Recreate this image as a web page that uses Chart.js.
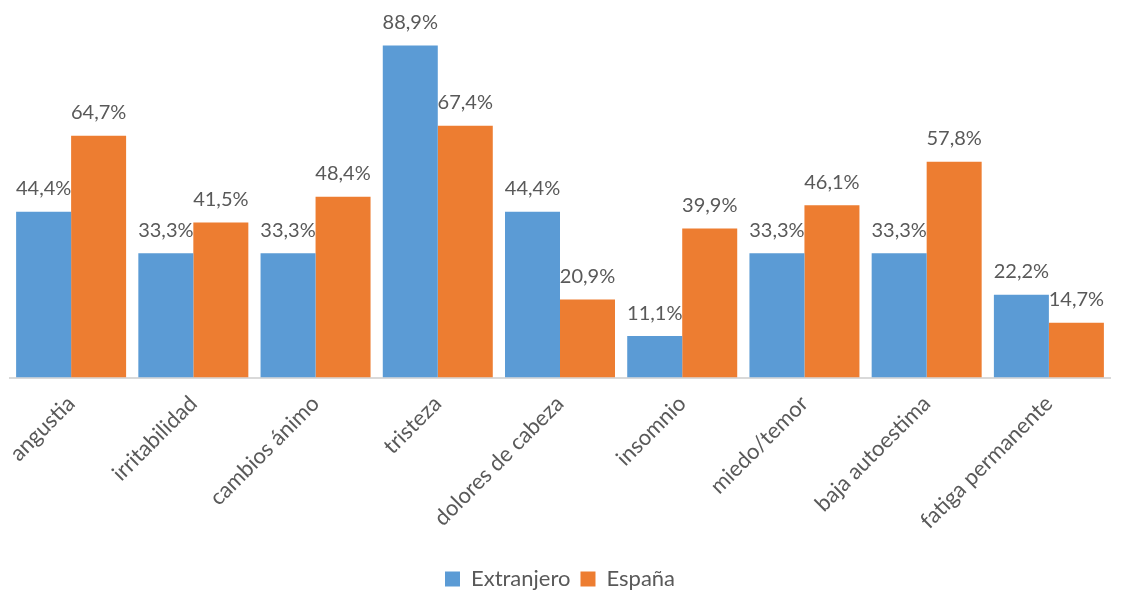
<!DOCTYPE html>
<html>
<head>
<meta charset="utf-8">
<script src="https://cdn.jsdelivr.net/npm/chart.js@4"></script>
<style>
  html, body { margin: 0; padding: 0; background: #fff; }
  #wrap { width: 1122px; height: 594px; }
</style>
</head>
<body>
<div id="wrap"><canvas id="myChart" width="1122" height="594"></canvas></div>
<script>
var categories = ['angustia', 'irritabilidad', 'cambios ánimo', 'tristeza', 'dolores de cabeza',
  'insomnio', 'miedo/temor', 'baja autoestima', 'fatiga permanente'];
var extranjero = [44.4, 33.3, 33.3, 88.9, 44.4, 11.1, 33.3, 33.3, 22.2];
var espana = [64.7, 41.5, 48.4, 67.4, 20.9, 39.9, 46.1, 57.8, 14.7];

var FONT = 'Lato, "Open Sans", sans-serif';
var TEXT = '#595959';

// writes "44,4%" above every bar
var valueLabels = {
  id: 'valueLabels',
  afterDatasetsDraw: function(chart) {
    var ctx = chart.ctx;
    ctx.save();
    ctx.font = '20px ' + FONT;
    ctx.fillStyle = TEXT;
    ctx.textAlign = 'center';
    ctx.textBaseline = 'middle';
    chart.data.datasets.forEach(function(ds, i) {
      chart.getDatasetMeta(i).data.forEach(function(bar, j) {
        var txt = ds.data[j].toFixed(1).replace('.', ',') + '%';
        ctx.fillText(txt, bar.x, bar.y - 23);
      });
    });
    ctx.restore();
  }
};

var ctx = document.getElementById('myChart');
var myChart = new Chart(ctx, {
  type: 'bar',
  data: {
    labels: categories,
    datasets: [
      { label: 'Extranjero', data: extranjero, backgroundColor: '#5B9BD5' },
      { label: 'España', data: espana, backgroundColor: '#ED7D31' }
    ]
  },
  options: {
    responsive: false,
    animation: false,
    layout: { padding: { left: 10, right: 12, top: 4, bottom: -6 } },
    datasets: { bar: { categoryPercentage: 0.9, barPercentage: 1 } },
    scales: {
      y: { display: false, min: 0, max: 100 },
      x: {
        grid: { display: false, drawTicks: false },
        border: { color: '#d9d9d9', width: 2 },
        ticks: {
          color: TEXT,
          font: { family: FONT, size: 22 },
          minRotation: 45,
          maxRotation: 45,
          padding: 13
        },
        // leave some room between the labels and the legend
        afterFit: function(scale) { scale.height += 11; }
      }
    },
    plugins: {
      tooltip: { enabled: false },
      legend: {
        position: 'bottom',
        labels: {
          color: TEXT,
          font: { family: FONT, size: 22 },
          boxWidth: 15,
          boxHeight: 15,
          padding: 10
        }
      }
    }
  },
  plugins: [valueLabels]
});
</script>
</body>
</html>
